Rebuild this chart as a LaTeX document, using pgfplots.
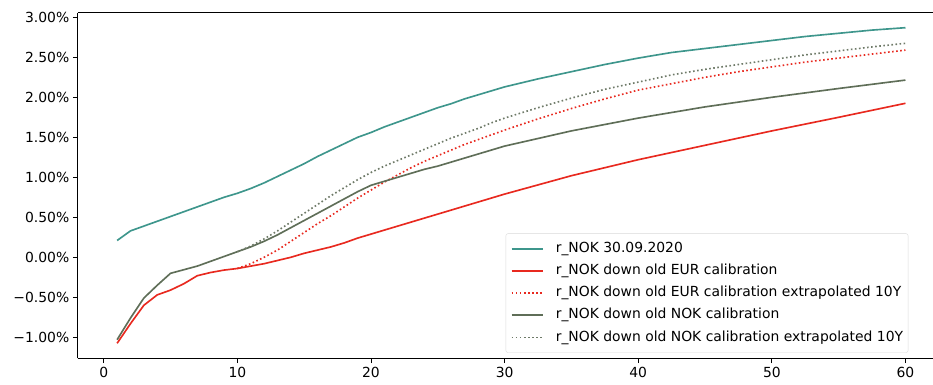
\documentclass[border=0pt]{standalone}
\usepackage{fontspec}
\setmainfont{DejaVu Sans}
\usepackage{pgfplots}
\pgfplotsset{compat=1.18}
\usepackage{pgfplotstable}
\definecolor{tealc}{RGB}{62,150,140}
\definecolor{redc}{RGB}{232,41,31}
\definecolor{olivec}{RGB}{95,110,88}
\definecolor{olivedot}{RGB}{110,122,104}

\pgfplotstableread{
x y
1 0.21
2 0.33
3 0.39
4 0.45
5 0.51
6 0.57
7 0.63
8 0.69
9 0.75
10 0.80
11 0.86
12 0.93
13 1.01
14 1.09
15 1.17
16 1.26
17 1.34
18 1.42
19 1.50
20 1.56
21 1.63
22 1.69
23 1.75
24 1.81
25 1.87
26 1.92
27 1.98
28 2.03
29 2.08
30 2.13
32.5 2.23
35 2.32
37.5 2.41
40 2.49
42.5 2.56
45 2.61
47.5 2.66
50 2.71
52.5 2.76
55 2.80
57.5 2.84
60 2.87
}\teal

\pgfplotstableread{
x y
1 -1.075
2 -0.83
3 -0.60
4 -0.47
5 -0.41
6 -0.33
7 -0.23
8 -0.19
9 -0.16
10 -0.14
11 -0.11
12 -0.08
13 -0.04
14 0.00
15 0.05
16 0.09
17 0.13
18 0.18
19 0.24
20 0.29
21 0.34
22 0.39
23 0.44
24 0.49
25 0.54
30 0.79
35 1.02
40 1.22
45 1.40
50 1.58
55 1.75
60 1.925
}\redsolid

\pgfplotstableread{
x y
10 -0.14
11 -0.08
12 0.00
13 0.09
14 0.20
15 0.31
16 0.42
17 0.52
18 0.63
19 0.74
20 0.84
21 0.94
22 1.03
23 1.12
24 1.20
25 1.27
26 1.34
27 1.41
28 1.47
29 1.53
30 1.59
32.5 1.73
35 1.86
37.5 1.98
40 2.09
42.5 2.17
45 2.25
47.5 2.32
50 2.38
52.5 2.44
55 2.49
57.5 2.54
60 2.59
}\reddot

\pgfplotstableread{
x y
1 -1.03
2 -0.76
3 -0.51
4 -0.35
5 -0.20
6 -0.155
7 -0.11
8 -0.05
9 0.01
10 0.07
11 0.13
12 0.20
13 0.28
14 0.37
15 0.46
16 0.55
17 0.64
18 0.73
19 0.82
20 0.90
21 0.95
22 1.00
23 1.05
24 1.10
25 1.14
26 1.19
27 1.24
28 1.29
29 1.34
30 1.39
35 1.58
40 1.74
45 1.88
50 2.00
55 2.11
60 2.215
}\greensolid

\pgfplotstableread{
x y
10 0.07
11 0.14
12 0.23
13 0.33
14 0.44
15 0.55
16 0.66
17 0.77
18 0.87
19 0.97
20 1.06
21 1.14
22 1.21
23 1.28
24 1.35
25 1.42
26 1.49
27 1.55
28 1.61
29 1.68
30 1.74
32.5 1.87
35 1.99
37.5 2.10
40 2.19
42.5 2.28
45 2.35
47.5 2.41
50 2.47
52.5 2.53
55 2.58
57.5 2.63
60 2.675
}\greendot

\begin{document}
\begin{tikzpicture}
\begin{axis}[
  scale only axis,
  width=855.3bp, height=345.6bp,
  xmin=-1.95, xmax=62.06,
  ymin=-1.2625, ymax=3.0575,
  axis x line*=box,
  axis y line*=left,
  axis line style={-, line width=0.8pt, black},
  tick align=outside,
  xtick pos=bottom,
  ytick pos=left,
  major tick length=4.9bp,
  tick style={line width=0.8pt, black},
  xtick={0,10,20,30,40,50,60},
  xticklabels={0,10,20,30,40,50,60},
  ytick={-1,-0.5,0,0.5,1,1.5,2,2.5,3},
  yticklabels={−1.00\%,−0.50\%,0.00\%,0.50\%,1.00\%,1.50\%,2.00\%,2.50\%,3.00\%},
  tick label style={font=\fontsize{13.9bp}{16bp}\selectfont},
  legend cell align=left,
  legend style={at={(0.5004,0.0162)}, anchor=south west,
    draw=black!15, rounded corners=2bp, fill=white,
    font=\fontsize{13.9bp}{16bp}\selectfont,
    inner xsep=5bp, inner ysep=8.5bp,
    row sep=9.2bp,
    nodes={inner sep=0pt, text height=10bp, text depth=3bp},
    /tikz/every odd column/.append style={column sep=11.7bp}},
  legend image code/.code={\draw[#1, line width=1.65pt, rounded corners=0pt] (0bp,0bp) -- (31.6bp,0bp);},
]
\addplot[draw=tealc, line width=1.65pt] table {\teal};
\addlegendentry{r\_NOK 30.09.2020}
\addplot[draw=redc, line width=1.65pt] table {\redsolid};
\addlegendentry{r\_NOK down old EUR calibration}
\addplot[draw=redc, line width=1.65pt, dash pattern=on 1.6pt off 2.5pt] table {\reddot};
\addlegendentry{r\_NOK down old EUR calibration extrapolated 10Y}
\addplot[draw=olivec, line width=1.65pt] table {\greensolid};
\addlegendentry{r\_NOK down old NOK calibration}
\addplot[draw=olivedot, line width=1.65pt, dash pattern=on 1.6pt off 2.5pt] table {\greendot};
\addlegendentry{r\_NOK down old NOK calibration extrapolated 10Y}
\end{axis}
\pgfresetboundingbox
\path[use as bounding box] ([shift={(-77.7bp,-26.7bp)}]current axis.south west) rectangle ([shift={(0bp,12.7bp)}]current axis.north east);
\end{tikzpicture}
\end{document}
